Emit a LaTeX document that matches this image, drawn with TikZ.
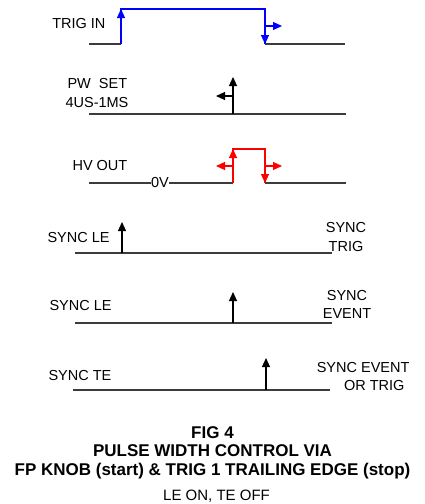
\documentclass[tikz,border=0pt]{standalone}
\usepackage{fontspec}
\setmainfont{Liberation Sans}
\usetikzlibrary{arrows.meta}
\definecolor{sigblue}{RGB}{0,0,255}
\definecolor{sigred}{RGB}{255,0,0}
\definecolor{wiregray}{RGB}{60,60,60}
\begin{document}
\begin{tikzpicture}[x=1pt,y=-1pt,line width=1.1pt,
  lbl/.style={font=\fontsize{14.5}{17}\selectfont,inner sep=0pt},
  captxt/.style={font=\bfseries\fontsize{17}{19}\selectfont,inner sep=0pt,anchor=base},
  wire/.style={draw=wiregray},
  arr/.style={-{Triangle[length=9pt,width=8pt]}},
  bluew/.style={draw=sigblue},
  redw/.style={draw=sigred}]
\useasboundingbox (0,0) rectangle (425,504);
% ---- TRIG IN ----
\node[lbl,anchor=east] (trigin) at (106,24) {TRIG IN};
\draw[wire] (89,44) -- (121,44);
\draw[wire] (265,44) -- (345,44);
\draw[bluew] (121,44) -- (121,9) -- (265,9) -- (265,44);
\draw[bluew,arr] (121,30) -- (121,9);
\draw[bluew,arr] (265,30) -- (265,44);
\draw[bluew,arr] (265,26) -- (282,26);
% ---- PW SET ----
\node[lbl,anchor=west] (pwset) at (67,84) {PW\ \ SET};
\node[lbl,anchor=west] (pwrange) at (65,103) {4US-1MS};
\draw[wire] (89,114) -- (346,114);
\draw[arr] (233,114) -- (233,77);
\draw[arr] (233,96) -- (216,96);
% ---- HV OUT ----
\node[lbl,anchor=west] (hvout) at (72,166) {HV OUT};
\node[lbl] (zerov) at (160,183) {0V};
\draw[wire] (89,183) -- (zerov.west);
\draw[wire] (zerov.east) -- (233,183);
\draw[wire] (265,183) -- (346,183);
\draw[redw] (233,183) -- (233,149) -- (265,149) -- (265,183);
\draw[redw,arr] (233,170) -- (233,149);
\draw[redw,arr] (265,165) -- (265,183);
\draw[redw,arr] (233,166) -- (216,166);
\draw[redw,arr] (265,166) -- (282,166);
% ---- SYNC LE / SYNC TRIG ----
\node[lbl,anchor=west] (syncle1) at (47,238) {SYNC LE};
\node[lbl] (synctrig1) at (346,228) {SYNC};
\node[lbl] (synctrig2) at (346,247) {TRIG};
\draw[wire] (75,253) -- (332,253);
\draw[arr] (122,253) -- (122,222);
% ---- SYNC LE / SYNC EVENT ----
\node[lbl,anchor=west] (syncle2) at (49,306) {SYNC LE};
\node[lbl] (syncev1) at (347,296) {SYNC};
\node[lbl] (syncev2) at (347,314) {EVENT};
\draw[wire] (75,323) -- (332,323);
\draw[arr] (233,323) -- (233,292);
% ---- SYNC TE / SYNC EVENT OR TRIG ----
\node[lbl,anchor=west] (syncte) at (48,376) {SYNC TE};
\node[lbl,anchor=east] (syncevtr1) at (410,368) {SYNC EVENT};
\node[lbl,anchor=east] (syncevtr2) at (405,386) {OR TRIG};
\draw[wire] (73,390) -- (330,390);
\draw[arr] (266,390) -- (266,358);
% ---- caption ----
\node[captxt] (fig) at (212.5,438) {FIG 4};
\node[captxt] (title1) at (212.5,456) {PULSE WIDTH CONTROL VIA};
\node[captxt] (title2) at (212.5,475) {FP KNOB (start) \& TRIG 1 TRAILING EDGE (stop)};
\node[font=\fontsize{15}{17}\selectfont,inner sep=0pt,anchor=base] (leon) at (216.5,500) {LE ON, TE OFF};
\end{tikzpicture}
\end{document}
